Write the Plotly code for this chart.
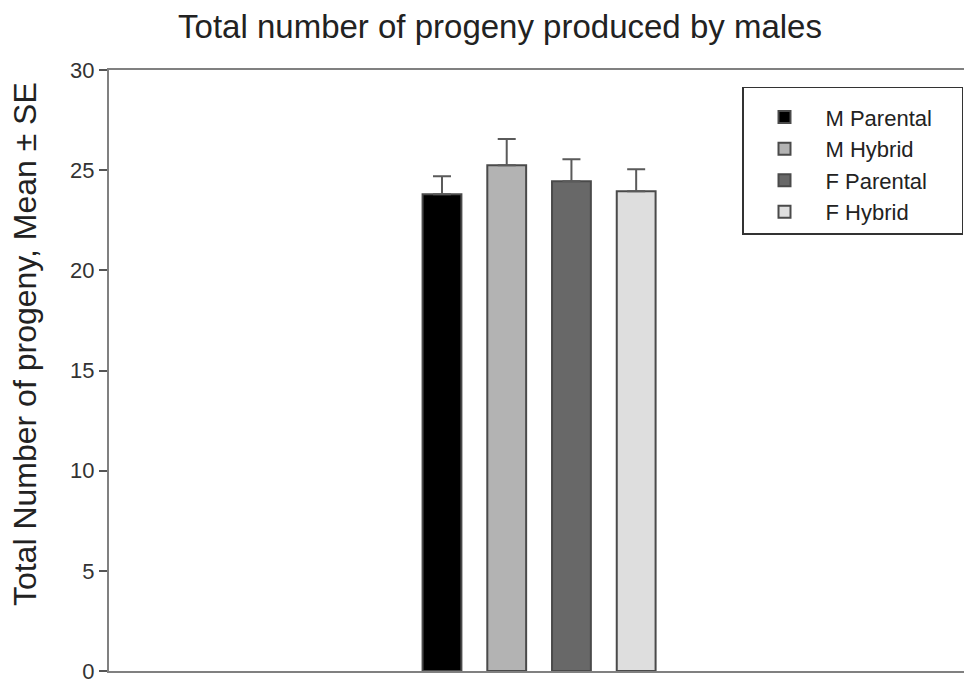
import plotly.graph_objects as go

# Group means and standard errors for total progeny sired by males
groups = ["M Parental", "M Hybrid", "F Parental", "F Hybrid"]
means = [23.8, 25.25, 24.45, 23.95]
se = [0.9, 1.3, 1.1, 1.1]
colors = ["#000000", "#b3b3b3", "#686868", "#dedede"]
category = [""]

# non-breaking spaces give the legend box some room on the right
legend_pad = "\u00a0" * 4

fig = go.Figure()
for name, m, e, c in zip(groups, means, se, colors):
    fig.add_trace(go.Bar(
        x=category, y=[m], name=name + legend_pad,
        marker=dict(color=c, line=dict(color="#4a4a4a", width=2)),
        error_y=dict(type="data", array=[e], arrayminus=[0], symmetric=False,
                     color="#5a5a5a", thickness=2, width=9),
    ))

font_family = "Liberation Sans, Arial, sans-serif"
fig.update_layout(
    width=964, height=684,
    margin=dict(l=109, r=0, t=70, b=11),
    paper_bgcolor="white", plot_bgcolor="white",
    barmode="group", bargap=0.699, bargroupgap=0.4,
    font=dict(family=font_family, color="#222222"),
    title=dict(text="Total number of progeny produced by males",
               x=(500 / 964), xanchor="center", y=1 - 26 / 684, yanchor="middle",
               font=dict(size=33, color="#222222")),
    xaxis=dict(range=[-0.5, 0.494], showline=True, linecolor="#808080", linewidth=2,
               mirror=True, showticklabels=False, ticks="", showgrid=False, zeroline=False),
    yaxis=dict(range=[0, 30], tickvals=[0, 5, 10, 15, 20, 25, 30], showline=True,
               linecolor="#808080", linewidth=2, ticks="outside", ticklen=8, tickwidth=1.5,
               tickcolor="#555555", showgrid=False, zeroline=False,
               ticklabeloverflow="allow",
               tickfont=dict(size=22, color="#333333")),
    legend=dict(x=(742 - 109) / 855, xanchor="left", y=(673 - 87) / 603, yanchor="top",
                bordercolor="#333333", borderwidth=1.5, bgcolor="white",
                font=dict(size=22, color="#222222"), itemwidth=72,
                title=dict(text=" ", font=dict(size=6)),
                tracegroupgap=0),
    showlegend=True,
)

fig.add_annotation(
    text="Total Number of progeny, Mean ± SE", textangle=-90,
    xref="paper", yref="paper", x=(25 - 109) / 855, y=(673 - 345) / 603,
    xanchor="center", yanchor="middle", showarrow=False,
    font=dict(size=32, color="#222222"),
)

fig.write_html("out.html")
